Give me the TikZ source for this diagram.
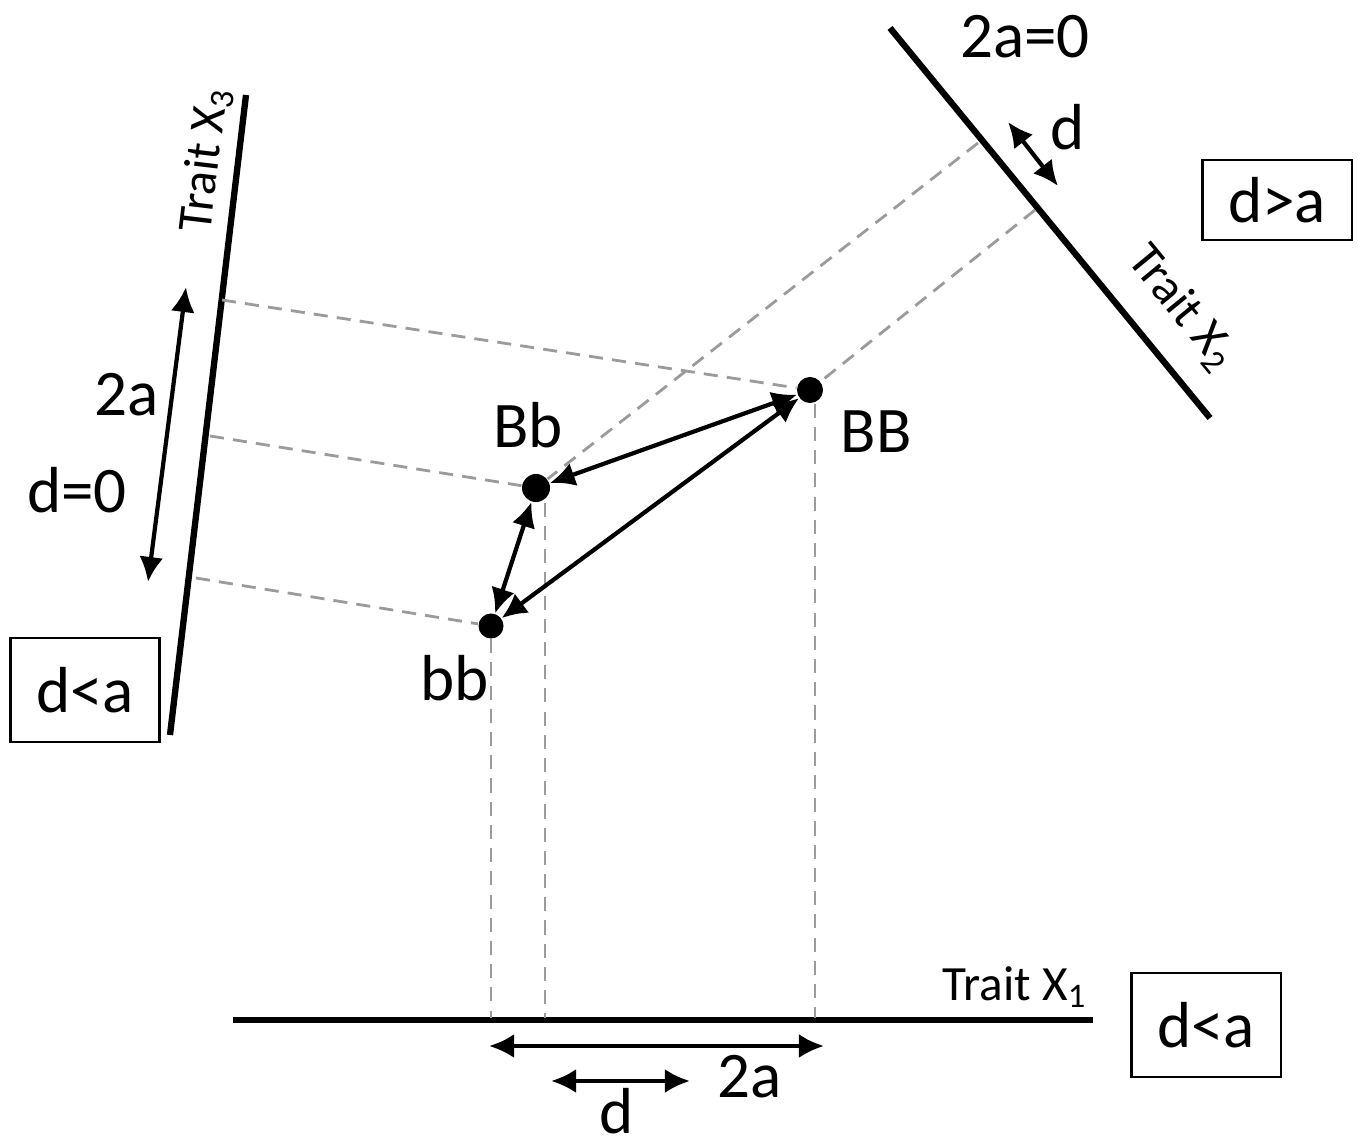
\documentclass[tikz,border=0pt]{standalone}
\usepackage{fontspec}
\setmainfont{Carlito}
\usetikzlibrary{arrows.meta}
\definecolor{projgray}{HTML}{9B9B9B}

\begin{document}
\begin{tikzpicture}[
    x=0.01cm, y=-0.01cm,
    font=\fontsize{18.5}{21}\selectfont,
    axis/.style={line width=1.8pt},
    proj/.style={draw=projgray, line width=0.8pt, dash pattern=on 4pt off 2.6pt},
    geno/.style={circle, fill=black, inner sep=0pt, minimum size=2.6mm},
    gap/.style={line width=1.2pt, {Latex[length=2.5mm,width=2.4mm]}-{Latex[length=2.5mm,width=2.4mm]}},
    trait/.style={font=\fontsize{14}{16}\selectfont, inner sep=1pt},
    condbox/.style={draw, line width=0.6pt, minimum width=1.49cm, minimum height=1.04cm, inner sep=2pt}
]
  \useasboundingbox (0,0) rectangle (1358,1140);

  % trait axes
  \coordinate (x1a) at (233,1020);
  \coordinate (x1b) at (1093,1020);
  \coordinate (x2a) at (890,28);
  \coordinate (x2b) at (1210,418);
  \coordinate (x3a) at (246,95);
  \coordinate (x3b) at (170,735);
  \draw[axis] (x1a) -- (x1b);
  \draw[axis] (x2a) -- (x2b);
  \draw[axis] (x3a) -- (x3b);

  % genotypes
  \node[geno] (BB) at (810,390) {};
  \node[geno, minimum size=2.8mm] (Bb) at (536,488) {};
  \node[geno, minimum size=2.5mm] (bb) at (491,626) {};

  % projections onto the axes
  \coordinate (p1bb) at (491,1018);
  \coordinate (p1Bb) at (545,1018);
  \coordinate (p1BB) at (815,1018);
  \coordinate (p2Bb) at (978,143);
  \coordinate (p2BB) at (1035,210);
  \coordinate (p3BB) at (222,300);
  \coordinate (p3Bb) at (210,436);
  \coordinate (p3bb) at (196,578);
  \draw[proj] (bb) -- (p1bb);
  \draw[proj] (p1Bb |- Bb.south) -- (p1Bb);
  \draw[proj] (p1BB |- BB.south) -- (p1BB);
  \draw[proj] (p2Bb) -- (Bb);
  \draw[proj] (p2BB) -- (BB);
  \draw[proj] (p3BB) -- (BB);
  \draw[proj] (p3Bb) -- (Bb);
  \draw[proj] (p3bb) -- (bb);

  % genotype differences
  \draw[gap] (Bb) -- (BB);
  \draw[gap] (bb) -- (Bb);
  \draw[gap] (bb) -- (BB);

  % effect spans
  \coordinate (s3a) at (186,287);
  \coordinate (s3b) at (148,582);
  \coordinate (s2a) at (1008,122);
  \coordinate (s2b) at (1058,186);
  \coordinate (s1a) at (489,1046);
  \coordinate (s1b) at (824,1046);
  \coordinate (d1a) at (551,1081);
  \coordinate (d1b) at (690,1081);
  \draw[gap] (s3a) -- (s3b);
  \draw[gap] (s2a) -- (s2b);
  \draw[gap] (s1a) -- (s1b);
  \draw[gap] (d1a) -- (d1b);

  % labels
  \node (lBB) at (876,432) {BB};
  \node (lBb) at (528,425) {Bb};
  \node (lbb) at (455,678) {bb};
  \node (l2a0) at (1025,37) {2a=0};
  \node (ld2) at (1068,127) {d};
  \node (l2a3) at (127,395) {2a};
  \node (ld3) at (77,490) {d=0};
  \node (l2a1) at (750,1077) {2a};
  \node (ld1) at (617,1111) {d};
  \node[trait] (t1) at (1015,987) {Trait X\textsubscript{1}};
  \node[trait, rotate=-50.6] (t2) at (1182,308) {Trait X\textsubscript{2}};
  \node[trait, rotate=83.2] (t3) at (206,160) {Trait X\textsubscript{3}};

  \node[condbox, minimum height=0.8cm] (c2) at (1277,200) {d>a};
  \node[condbox] (c3) at (85,690) {d<a};
  \node[condbox] (c1) at (1206,1025) {d<a};
\end{tikzpicture}
\end{document}
